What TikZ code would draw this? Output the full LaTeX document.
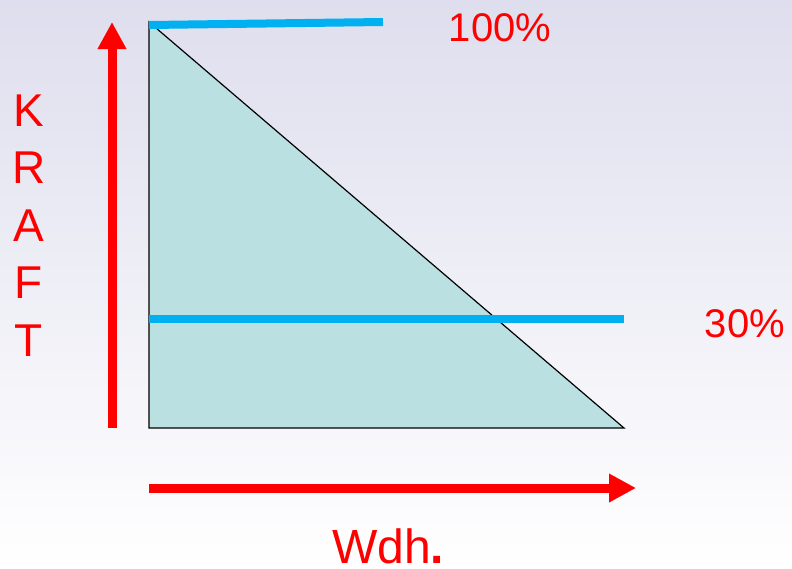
\documentclass[tikz,border=0pt]{standalone}
\usepackage{fontspec}
\setmainfont{Liberation Sans}
\usetikzlibrary{arrows.meta}
\definecolor{bgtop}{RGB}{222,222,238}
\definecolor{fillteal}{RGB}{186,224,226}
\definecolor{levelblue}{RGB}{0,176,240}
\tikzset{
  axisarrow/.style={red, line width=9pt, -{Triangle[length=27pt,width=27pt]}},
  level/.style={levelblue, line width=8pt},
  lbl/.style={red, inner sep=0pt, font=\fontsize{40}{48}\selectfont},
  biglbl/.style={red, inner sep=0pt, font=\fontsize{46}{55}\selectfont}
}
\begin{document}
\begin{tikzpicture}[x=1pt, y=-1pt]
    \shade[top color=bgtop, bottom color=white] (0,0) rectangle (792,568);
    \useasboundingbox (0,0) rectangle (792,568);
    \coordinate (top) at (149,22);
    \coordinate (corner) at (149,428);
    \coordinate (tip) at (624,428);
    % force triangle
    \filldraw[fill=fillteal, draw=black, line width=1.2pt] (top) -- (corner) -- (tip) -- cycle;
    % levels
    \draw[level] (149,25) -- (383,22);
    \draw[level] (149,319) -- (624,319);
    % axes
    \draw[axisarrow] (112,428) -- (112,22);
    \draw[axisarrow] (149,488) -- (636,488);
    % labels
    \node[lbl, anchor=base] (full) at (500,41) {100\%};
    \node[lbl, anchor=base] (part) at (745,337) {30\%};
    \foreach \l [count=\i] in {K,R,A,F,T}
      \node[biglbl, anchor=base] (k\i) at (29,{126+57.5*(\i-1)}) {\l};
    \node[biglbl, font=\fontsize{48}{56}\selectfont, anchor=base west] (wdh) at (332,563) {Wdh\textbf{.}};
\end{tikzpicture}
\end{document}
